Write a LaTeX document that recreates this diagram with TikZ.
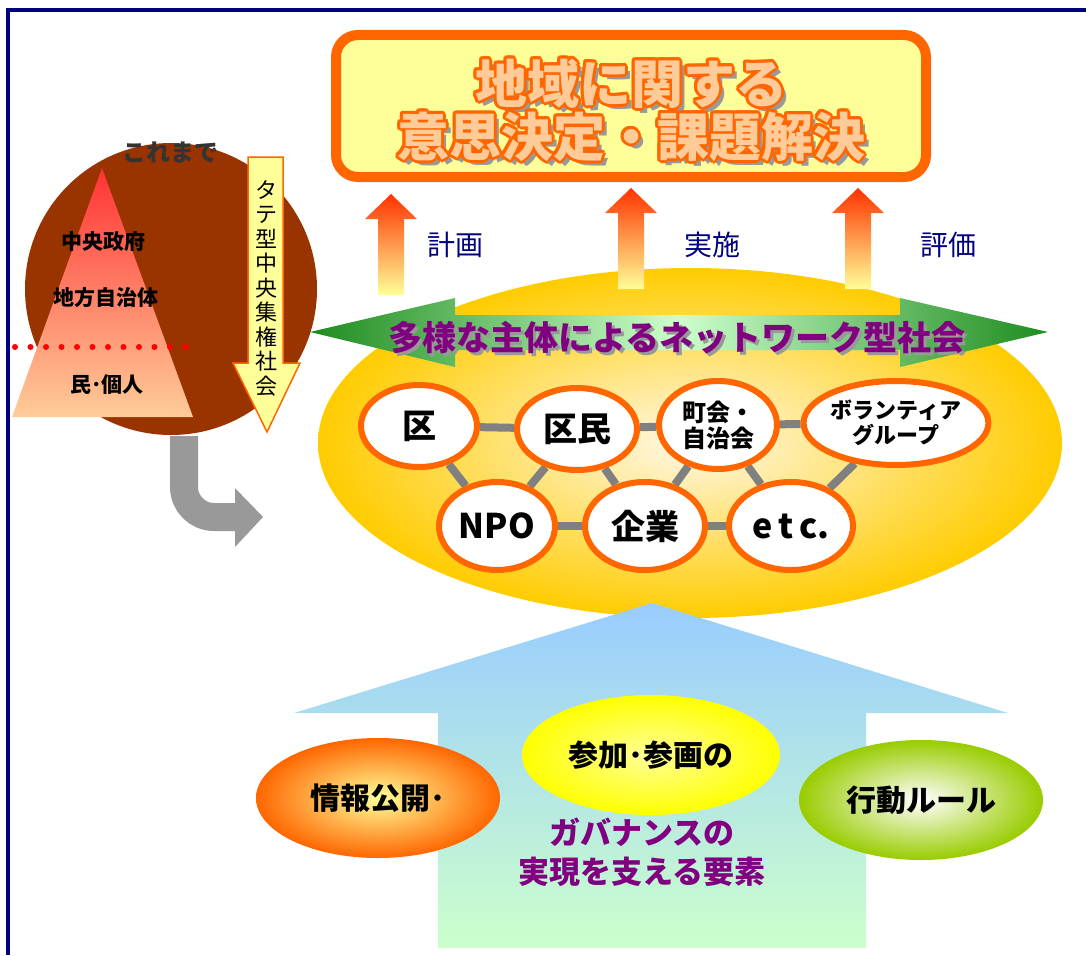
\documentclass[tikz,border=0pt]{standalone}
\usepackage{fontspec}
\setmainfont{Noto Sans CJK JP}
\usetikzlibrary{shapes.geometric}

\definecolor{navyline}{HTML}{000080}
\definecolor{orangeline}{HTML}{FF6600}
\definecolor{paleyellow}{HTML}{FFFF99}
\definecolor{peach}{HTML}{FFCC99}
\definecolor{brownball}{HTML}{993300}
\definecolor{pyramidtop}{HTML}{FF3333}
\definecolor{arrowgray}{HTML}{999999}
\definecolor{arrowred}{HTML}{FF3300}
\definecolor{netgold}{HTML}{FFCC00}
\definecolor{netcore}{HTML}{FFF8E6}
\definecolor{netgreen}{HTML}{1E8C1E}
\definecolor{lightgreen}{HTML}{CCFFCC}
\definecolor{netpurple}{HTML}{800080}
\definecolor{linkgray}{HTML}{808080}
\definecolor{skyblue}{HTML}{99CCFF}
\definecolor{leafgreen}{HTML}{99CC00}
\definecolor{darktext}{HTML}{333333}
\definecolor{shadowgray}{HTML}{999999}

\newcommand{\jfont}[2]{\fontsize{#1}{#2}\selectfont}

\pgfdeclarelayer{back}
\pgfsetlayers{back,main}

\tikzset{
  member/.style={ellipse, draw=orangeline, line width=6pt, fill=white, inner sep=0pt,
    align=center, font=\bfseries\jfont{34}{36}},
  upflow/.style={bottom color=paleyellow, top color=arrowred},
  flowlabel/.style={text=navyline, font=\jfont{28}{30}},
  pyramidtext/.style={font=\bfseries\jfont{21}{22}},
  pillar/.style={ellipse, minimum width=244pt, minimum height=120pt, inner sep=0pt,
    font=\bfseries\jfont{30}{32}},
  link/.style={linkgray, line width=8pt},
  titletext/.style={align=center, font=\bfseries\jfont{52}{53}},
  nettext/.style={font=\bfseries\jfont{34}{36}}
}

\begin{document}
\begin{tikzpicture}[x=1pt,y=-1pt]
  \useasboundingbox (0,0) rectangle (1086,955);
  \draw[navyline, line width=4pt] (8,955) -- (8,10) -- (1086,10); % frame

  % top box
  \draw[orangeline, fill=paleyellow, line width=10pt, rounded corners=22pt] (336,35) rectangle (926,177);
  \node[titletext, text=shadowgray, xshift=5pt, yshift=-5pt] (title-sh) at (631,110) {地域に関する\\意思決定・課題解決};
  \foreach \a in {0,30,...,330}
    \node[titletext, text=orangeline, xshift={3pt*cos(\a)}, yshift={3pt*sin(\a)}] (title-o\a) at (631,110) {地域に関する\\意思決定・課題解決};
  \node[titletext, text=peach] (title) at (631,110) {地域に関する\\意思決定・課題解決};

  % left: up to now
  \fill[brownball] (171,289) circle [radius=146];
  \shade[top color=pyramidtop, bottom color=peach] (102,168) -- (193,417) -- (12,417) -- cycle;
  \node[font=\bfseries\jfont{24}{24}, text=darktext] (sofar) at (170,152) {これまで};
  \node[pyramidtext] (state) at (103,242) {中央政府};
  \node[pyramidtext] (local) at (106,298) {地方自治体};
  \node[pyramidtext] (people) at (107,385) {民･個人};
  \draw[red, line width=6pt, line cap=round, dash pattern=on 0pt off 15.5pt] (15,347) -- (190,347);

  \draw[orangeline, fill=paleyellow, line width=1.5pt] (248,157) -- (283,157) -- (283,363) -- (300,363)
    -- (267,432) -- (233,363) -- (248,363) -- cycle;
  \node[align=center, font=\jfont{22}{24.5}] (vertical) at (266,288) {タ\\テ\\型\\中\\央\\集\\権\\社\\会};

  \draw[arrowgray, line width=28pt, rounded corners=30pt] (184,436) -- (184,517) -- (240,517);
  \fill[arrowgray] (235,488) -- (263,517) -- (235,547) -- cycle;

  % plan / do / check
  \foreach \cx/\tip/\foot in {391/194/295, 631/188/289, 858/188/289}
    \shade[upflow] (\cx-13,\foot) -- (\cx-13,\tip+25) -- (\cx-26,\tip+25) -- (\cx,\tip)
      -- (\cx+26,\tip+25) -- (\cx+13,\tip+25) -- (\cx+13,\foot) -- cycle;
  \node[flowlabel] (plan) at (455,245) {計画};
  \node[flowlabel] (act) at (712,245) {実施};
  \node[flowlabel] (check) at (948,245) {評価};

  % network society
  \shade[left color=netgreen, right color=netgreen, middle color=lightgreen]
    (310,332) -- (455,298) -- (455,315) -- (900,315) -- (900,298) -- (1048,332)
    -- (900,367) -- (900,350) -- (455,350) -- (455,367) -- cycle;
  \node[nettext, text=shadowgray, xshift=3pt, yshift=-3pt] (net-sh) at (677,338) {多様な主体によるネットワーク型社会};
  \node[nettext, text=netpurple] (net) at (677,338) {多様な主体によるネットワーク型社会};

  \node[member, minimum width=116pt, minimum height=82pt] (ku) at (419,426) {区};
  \node[member, minimum width=120pt, minimum height=82pt] (kumin) at (577,429) {区民};
  \node[member, minimum width=118pt, minimum height=88pt, font=\bfseries\jfont{24}{26}] (chokai) at (718,425) {町会・\\自治会};
  \node[member, minimum width=166pt, minimum height=84pt, font=\bfseries\jfont{22}{25}] (volunteer) at (896,423) {ボランティア\\グループ};
  \node[member, minimum width=116pt, minimum height=88pt] (npo) at (497,526) {NPO};
  \node[member, minimum width=120pt, minimum height=88pt] (kigyo) at (645,526) {企業};
  \node[member, minimum width=124pt, minimum height=88pt] (etc) at (791,526) {e\,t\,c.};

  \begin{pgfonlayer}{back}
    \shade[inner color=netcore, outer color=netgold] (690,443) ellipse [x radius=372, y radius=175];
    \draw[link] (ku) -- (kumin) -- (chokai) -- (volunteer);
    \draw[link] (npo) -- (kigyo) -- (etc);
    \draw[link] (ku) -- (npo) -- (kumin) -- (kigyo) -- (chokai) -- (etc) -- (volunteer);
  \end{pgfonlayer}

  % supporting elements
  \shade[top color=skyblue, bottom color=lightgreen] (652,603) -- (1008,713) -- (866,713) -- (866,948)
    -- (438,948) -- (438,713) -- (294,713) -- cycle;
  \node[pillar, inner color=paleyellow, outer color=orangeline] (info) at (378,798) {情報公開･};
  \node[pillar, minimum width=258pt, inner color=paleyellow, outer color=yellow] (join) at (651,755) {参加･参画の};
  \node[pillar, inner color=white, outer color=leafgreen] (rule) at (921,800) {行動ルール};
  \node[align=center, text=netpurple, font=\bfseries\jfont{31}{39}] (governance) at (642,852) {ガバナンスの\\実現を支える要素};
\end{tikzpicture}
\end{document}
